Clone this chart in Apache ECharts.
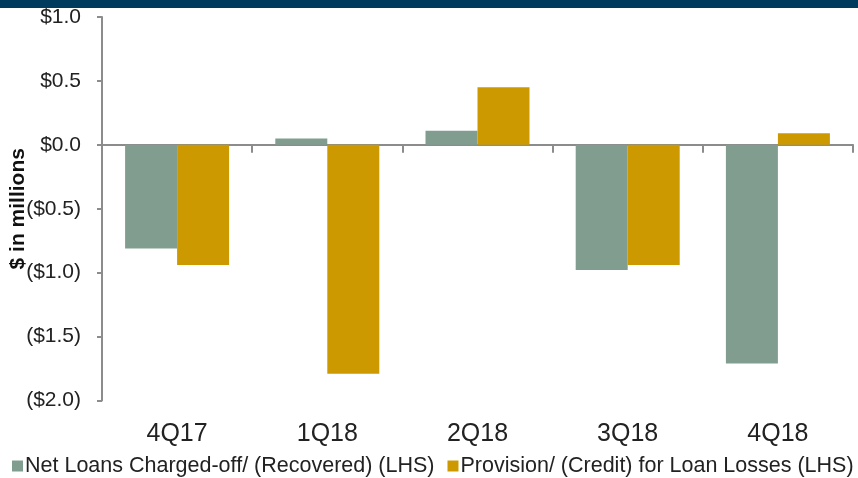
<!DOCTYPE html>
<html>
<head>
<meta charset="utf-8">
<script src="https://cdn.jsdelivr.net/npm/echarts@6/dist/echarts.min.js"></script>
<style>html,body{margin:0;padding:0;background:#fff}#c{width:858px;height:478px}</style>
</head>
<body>
<div id="c"></div>
<script>
var categories = ['4Q17', '1Q18', '2Q18', '3Q18', '4Q18'];
var netLoans = [-0.81, 0.05, 0.11, -0.98, -1.71];
var provision = [-0.94, -1.79, 0.45, -0.94, 0.09];
var seriesNames = ['Net Loans Charged-off/ (Recovered) (LHS)', 'Provision/ (Credit) for Loan Losses (LHS)'];
var yTicks = { min: -2, max: 1, interval: 0.5 };

var font = '"Liberation Sans", Arial, sans-serif';
var chart = echarts.init(document.getElementById('c'), null, { renderer: 'canvas' });
chart.setOption({
  animation: false,
  textStyle: { fontFamily: font },
  graphic: [{ type: 'rect', shape: { x: 0, y: 0, width: 858, height: 8 }, style: { fill: '#003a5d' }, z: 100 }],
  grid: { left: 102, right: 5, top: 17, bottom: 77.5, containLabel: false, outerBoundsMode: 'none' },
  legend: {
    left: 12, top: 455, width: 846, padding: 0, itemWidth: 11, itemHeight: 11, itemGap: 13, icon: 'rect',
    textStyle: { fontFamily: font, fontSize: 21.5, color: '#222', padding: [0, 0, 0, -3] },
    data: seriesNames
  },
  xAxis: [{
    type: 'category', data: categories, position: 'bottom',
    axisLine: { onZero: true, lineStyle: { color: '#8c8c8c', width: 2 } },
    axisTick: { show: true, length: 8, lineStyle: { color: '#8c8c8c', width: 2 } },
    axisLabel: { show: false }
  }, {
    type: 'category', data: categories, position: 'bottom', offset: 0,
    axisLine: { show: false, onZero: false }, axisTick: { show: false },
    axisLabel: { show: true, fontSize: 25, color: '#222', margin: 21, fontFamily: font }
  }],
  yAxis: {
    type: 'value', min: yTicks.min, max: yTicks.max, interval: yTicks.interval,
    name: '$ in millions', nameLocation: 'middle', nameGap: 73, nameMoveOverlap: false,
    nameTextStyle: { fontFamily: font, fontSize: 21, fontWeight: 'bold', color: '#111' },
    axisLine: { show: true, lineStyle: { color: '#8c8c8c', width: 2 } },
    axisTick: { show: true, length: 5, lineStyle: { color: '#8c8c8c', width: 2 } },
    splitLine: { show: false },
    axisLabel: {
      margin: 21, fontSize: 21, color: '#222', fontFamily: font,
      formatter: function (v) { return v < 0 ? '($' + Math.abs(v).toFixed(1) + ')' : '$' + v.toFixed(1); }
    }
  },
  series: [
    { name: seriesNames[0], type: 'bar', data: netLoans, barWidth: 52, barGap: '0%', itemStyle: { color: '#809d8f' } },
    { name: seriesNames[1], type: 'bar', data: provision, barWidth: 52, itemStyle: { color: '#cc9a00' } }
  ]
});
</script>
</body>
</html>
